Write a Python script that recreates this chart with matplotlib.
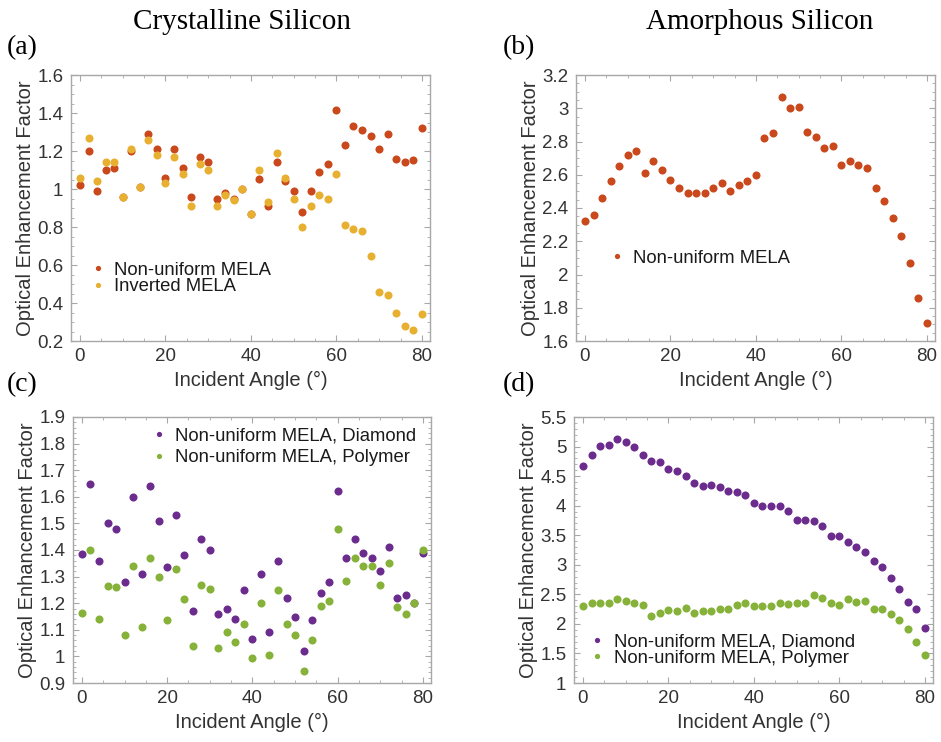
import numpy as np
import matplotlib
matplotlib.use("Agg")
import matplotlib.pyplot as plt
from matplotlib.ticker import MultipleLocator, FuncFormatter

plt.rcParams['font.family'] = ['Liberation Sans', 'DejaVu Sans']

# incident angle (deg), same for every series
angle = np.arange(0, 82, 2)

# (a) crystalline silicon
c_si_nonuniform = [1.02, 1.20, 0.99, 1.10, 1.11, 0.96, 1.20, 1.01, 1.29, 1.21,
                   1.06, 1.21, 1.11, 0.96, 1.17, 1.14, 0.95, 0.98, 0.95, 1.00,
                   0.87, 1.055, 0.91, 1.14, 1.04, 0.99, 0.88, 0.99, 1.09, 1.13,
                   1.415, 1.23, 1.33, 1.31, 1.28, 1.21, 1.29, 1.16, 1.14, 1.155,
                   1.32]
c_si_inverted = [1.06, 1.27, 1.04, 1.14, 1.14, 0.96, 1.21, 1.01, 1.26, 1.18,
                 1.03, 1.17, 1.08, 0.91, 1.13, 1.10, 0.91, 0.97, 0.94, 1.00,
                 0.87, 1.10, 0.93, 1.19, 1.06, 0.95, 0.80, 0.91, 0.97, 0.95,
                 1.08, 0.81, 0.79, 0.78, 0.645, 0.46, 0.44, 0.35, 0.28, 0.26,
                 0.34]

# (b) amorphous silicon
a_si_nonuniform = [2.32, 2.36, 2.46, 2.56, 2.65, 2.72, 2.74, 2.61, 2.68, 2.63,
                   2.57, 2.52, 2.49, 2.49, 2.49, 2.52, 2.55, 2.50, 2.54, 2.56,
                   2.60, 2.82, 2.85, 3.07, 3.00, 3.01, 2.86, 2.83, 2.76, 2.77,
                   2.66, 2.68, 2.66, 2.64, 2.52, 2.44, 2.34, 2.23, 2.07, 1.86,
                   1.71]

# (c) crystalline silicon, diamond / polymer
c_si_diamond = [1.385, 1.65, 1.36, 1.50, 1.48, 1.28, 1.60, 1.31, 1.64, 1.51,
                1.335, 1.53, 1.38, 1.17, 1.44, 1.40, 1.16, 1.18, 1.14, 1.25,
                1.065, 1.31, 1.09, 1.36, 1.22, 1.15, 1.02, 1.135, 1.24, 1.28,
                1.62, 1.37, 1.44, 1.39, 1.37, 1.32, 1.41, 1.22, 1.23, 1.20,
                1.39]
c_si_polymer = [1.165, 1.40, 1.14, 1.265, 1.26, 1.08, 1.34, 1.11, 1.37, 1.30,
                1.135, 1.33, 1.215, 1.04, 1.27, 1.255, 1.03, 1.09, 1.055, 1.12,
                0.995, 1.20, 1.005, 1.25, 1.12, 1.08, 0.945, 1.06, 1.19, 1.21,
                1.48, 1.285, 1.37, 1.34, 1.34, 1.27, 1.35, 1.185, 1.16, 1.20,
                1.40]

# (d) amorphous silicon, diamond / polymer
a_si_diamond = [4.67, 4.86, 5.01, 5.03, 5.12, 5.08, 5.00, 4.85, 4.76, 4.74,
                4.62, 4.59, 4.50, 4.39, 4.33, 4.35, 4.32, 4.25, 4.23, 4.18,
                4.04, 3.99, 4.00, 3.99, 3.91, 3.76, 3.75, 3.74, 3.65, 3.49,
                3.48, 3.39, 3.30, 3.22, 3.06, 2.97, 2.77, 2.59, 2.37, 2.26,
                1.93]
a_si_polymer = [2.31, 2.36, 2.36, 2.36, 2.42, 2.39, 2.36, 2.32, 2.14, 2.19,
                2.24, 2.22, 2.27, 2.18, 2.22, 2.22, 2.25, 2.26, 2.32, 2.36,
                2.31, 2.31, 2.30, 2.36, 2.34, 2.35, 2.36, 2.49, 2.44, 2.35,
                2.32, 2.42, 2.37, 2.38, 2.26, 2.26, 2.17, 2.06, 1.91, 1.69,
                1.47]

RED = '#C9481C'
YELLOW = '#E8B030'
PURPLE = '#6B2C8E'
GREEN = '#87B23A'
FRAME = '#A8A8A8'
TXT = '#333333'

W, H = 941, 742
fig = plt.figure(figsize=(W / 100, H / 100), dpi=100)


def make_axes(left, right, top, bottom):
    return fig.add_axes([left / W, 1 - bottom / H, (right - left) / W, (bottom - top) / H])


def style(ax, ylim, ymaj, ymin):
    ax.set_xlim(-2.1, 81.9)
    ax.set_ylim(*ylim)
    ax.xaxis.set_major_locator(MultipleLocator(20))
    ax.xaxis.set_minor_locator(MultipleLocator(5))
    ax.yaxis.set_major_locator(MultipleLocator(ymaj))
    ax.yaxis.set_minor_locator(MultipleLocator(ymin))
    ax.yaxis.set_major_formatter(FuncFormatter(lambda v, p: '%g' % round(v, 3)))
    ax.tick_params(which='both', direction='in', top=True, right=True,
                   color=FRAME, labelcolor=TXT, labelsize=13.5)
    ax.tick_params(which='major', length=4, width=0.8)
    ax.tick_params(which='minor', length=2.2, width=0.6)
    ax.tick_params(axis='y', pad=5.5)
    ax.tick_params(axis='x', pad=5)
    for s in ax.spines.values():
        s.set_color(FRAME)
        s.set_linewidth(1.0)
    ax.set_xlabel('Incident Angle (°)', fontsize=14.5, color=TXT, labelpad=4)
    ax.set_ylabel('Optical Enhancement Factor', fontsize=14.5, color=TXT, labelpad=1.5)


def add_legend(ax, x, y, spacing):
    ax.legend(loc='center left', bbox_to_anchor=(x, y), frameon=False,
              fontsize=13.3, borderpad=0, borderaxespad=0, handlelength=1.0,
              handletextpad=0.4, labelspacing=spacing, markerscale=0.65,
              labelcolor='#1a1a1a')


ms = 5.8

# (a)
ax_a = make_axes(71, 430, 75, 341)
ax_a.plot(angle, c_si_nonuniform, 'o', ms=ms, color=RED, mew=0, label='Non-uniform MELA')
ax_a.plot(angle, c_si_inverted, 'o', ms=ms, color=YELLOW, mew=0, label='Inverted MELA')
style(ax_a, (0.2, 1.6), 0.2, 0.05)
add_legend(ax_a, 0.049, 0.235, -0.02)

# (b)
ax_b = make_axes(576, 935, 75, 341)
ax_b.plot(angle, a_si_nonuniform, 'o', ms=ms, color=RED, mew=0, label='Non-uniform MELA')
style(ax_b, (1.6, 3.2), 0.2, 0.05)
add_legend(ax_b, 0.088, 0.312, 0)

# (c)
ax_c = make_axes(73, 431, 417, 683)
ax_c.plot(angle, c_si_diamond, 'o', ms=ms, color=PURPLE, mew=0, label='Non-uniform MELA, Diamond')
ax_c.plot(angle, c_si_polymer, 'o', ms=ms, color=GREEN, mew=0, label='Non-uniform MELA, Polymer')
style(ax_c, (0.9, 1.9), 0.1, 0.02)
add_legend(ax_c, 0.214, 0.887, 0.26)

# (d)
ax_d = make_axes(574, 933, 417, 683)
ax_d.plot(angle, a_si_diamond, 'o', ms=ms, color=PURPLE, mew=0, label='Non-uniform MELA, Diamond')
ax_d.plot(angle, a_si_polymer, 'o', ms=ms, color=GREEN, mew=0, label='Non-uniform MELA, Polymer')
style(ax_d, (1.0, 5.5), 0.5, 0.1)
add_legend(ax_d, 0.038, 0.124, -0.02)

# column titles and panel letters
serif = ['Liberation Serif', 'DejaVu Serif']
fig.text(242 / W, 1 - 22 / H, 'Crystalline Silicon', family=serif, fontsize=21,
         ha='center', va='center')
fig.text(760 / W, 1 - 22 / H, 'Amorphous Silicon', family=serif, fontsize=21,
         ha='center', va='center')
for lab, x, y in [('(a)', 7, 48), ('(b)', 503, 48), ('(c)', 7, 385), ('(d)', 503, 385)]:
    fig.text(x / W, 1 - y / H, lab, family=serif, fontsize=20, ha='left', va='center')

fig.savefig('out.png', dpi=100)
